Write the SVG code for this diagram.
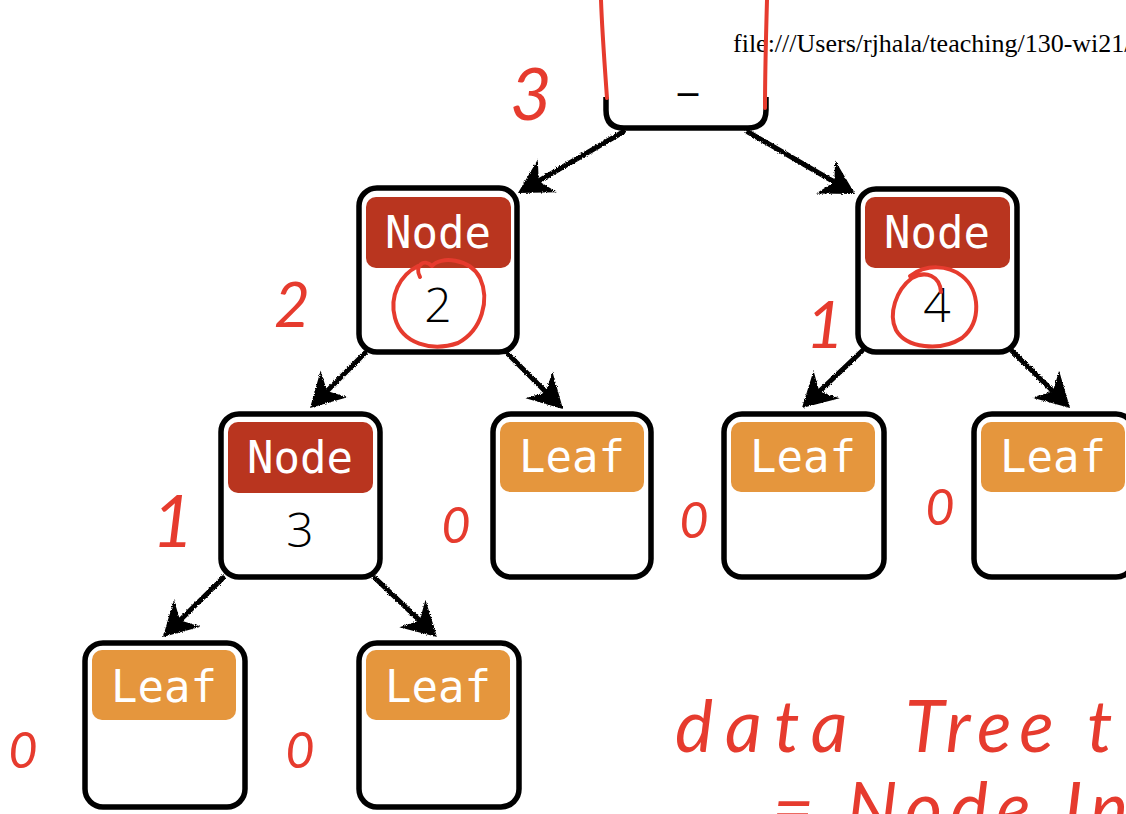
<svg xmlns="http://www.w3.org/2000/svg" width="1126" height="814" viewBox="0 0 1126 814">
  <style>
    .box { fill: #ffffff; stroke: #000000; stroke-width: 5.5; }
    .hdr-node { fill: #b9351f; }
    .hdr-leaf { fill: #e5963d; }
    .tag { font-family: "DejaVu Sans Mono", "Liberation Mono", monospace; font-size: 44px; fill: #ffffff; text-anchor: middle; }
    .val { font-family: "Open Sans", "Liberation Sans", sans-serif; font-weight: 300; font-size: 48px; fill: #000000; text-anchor: middle; }
    .edge { fill: none; stroke: #000000; stroke-width: 5; stroke-linecap: round; }
    .ink { fill: none; stroke: #e63b2e; stroke-width: 4; stroke-linecap: round; stroke-linejoin: round; }
    .hand { font-family: "Lato", "Noto Sans", "DejaVu Sans", sans-serif; font-weight: 400; font-style: italic; fill: #e63b2e; }
    .url { font-family: "Liberation Serif", "Times New Roman", serif; font-size: 26px; fill: #000000; }
  </style>
  <defs>
    <filter id="rough" x="-10%" y="-10%" width="120%" height="120%">
      <feTurbulence type="fractalNoise" baseFrequency="0.9" numOctaves="2" seed="3" result="n"/>
      <feDisplacementMap in="SourceGraphic" in2="n" scale="3" xChannelSelector="R" yChannelSelector="G"/>
    </filter>
    <marker id="head" markerUnits="userSpaceOnUse" viewBox="-26 -21 38 42" refX="0" refY="0" markerWidth="38" markerHeight="42" orient="auto">
      <path d="M10,0 L-24,-19 L-14,0 L-24,19 Z" fill="#000000"/>
    </marker>
  </defs>

  <rect width="1126" height="814" fill="#ffffff"/>

  <!-- connectors -->
  <g id="connectors" filter="url(#rough)">
    <line class="edge" x1="623" y1="132" x2="526.6" y2="188" marker-end="url(#head)"/>
    <line class="edge" x1="748" y1="132" x2="846.4" y2="189" marker-end="url(#head)"/>
    <line class="edge" x1="365" y1="353" x2="317.1" y2="400.9" marker-end="url(#head)"/>
    <line class="edge" x1="507" y1="353" x2="555.9" y2="401.9" marker-end="url(#head)"/>
    <line class="edge" x1="862" y1="351" x2="809.2" y2="401.1" marker-end="url(#head)"/>
    <line class="edge" x1="1012" y1="351" x2="1062.9" y2="401" marker-end="url(#head)"/>
    <line class="edge" x1="223" y1="578" x2="170.1" y2="630" marker-end="url(#head)"/>
    <line class="edge" x1="375" y1="578" x2="429.8" y2="630.1" marker-end="url(#head)"/>
  </g>

  <!-- root: only the lower part of its frame is visible -->
  <g id="root">
    <path d="M606,97 V110 Q606,128 624,128 H748 Q766,128 766,110 V97" fill="#ffffff" stroke="#000000" stroke-width="5.5"/>
    <text x="688" y="86" font-family="DejaVu Sans, sans-serif" font-size="40" text-anchor="middle" fill="#000">_</text>
  </g>

  <g id="node2">
    <rect class="box" x="359" y="188" width="158" height="164" rx="18"/>
    <rect class="hdr-node" x="366" y="197" width="145" height="71" rx="10"/>
    <text class="tag" x="438" y="248">Node</text>
    <text class="val" x="438" y="322">2</text>
  </g>

  <g id="node4">
    <rect class="box" x="858" y="189" width="159" height="163" rx="18"/>
    <rect class="hdr-node" x="865" y="197" width="145" height="71" rx="10"/>
    <text class="tag" x="937" y="248">Node</text>
    <text class="val" x="937" y="322">4</text>
  </g>

  <g id="node3">
    <rect class="box" x="221" y="414" width="159" height="163" rx="18"/>
    <rect class="hdr-node" x="228" y="422" width="145" height="71" rx="10"/>
    <text class="tag" x="300" y="473">Node</text>
    <text class="val" x="300" y="547">3</text>
  </g>

  <g id="leaf-a">
    <rect class="box" x="493" y="414" width="158" height="163" rx="18"/>
    <rect class="hdr-leaf" x="500" y="422" width="144" height="70" rx="10"/>
    <text class="tag" x="572" y="472">Leaf</text>
  </g>

  <g id="leaf-b">
    <rect class="box" x="724" y="414" width="160" height="163" rx="18"/>
    <rect class="hdr-leaf" x="731" y="422" width="144" height="70" rx="10"/>
    <text class="tag" x="803" y="472">Leaf</text>
  </g>

  <g id="leaf-c">
    <rect class="box" x="974" y="414" width="160" height="163" rx="18"/>
    <rect class="hdr-leaf" x="981" y="422" width="144" height="70" rx="10"/>
    <text class="tag" x="1053" y="472">Leaf</text>
  </g>

  <g id="leaf-d">
    <rect class="box" x="85" y="643" width="160" height="164" rx="18"/>
    <rect class="hdr-leaf" x="92" y="650" width="144" height="70" rx="10"/>
    <text class="tag" x="164" y="702">Leaf</text>
  </g>

  <g id="leaf-e">
    <rect class="box" x="359" y="643" width="160" height="164" rx="18"/>
    <rect class="hdr-leaf" x="366" y="650" width="144" height="70" rx="10"/>
    <text class="tag" x="438" y="702">Leaf</text>
  </g>

  <text class="url" x="733" y="52">file:///Users/rjhala/teaching/130-wi21/</text>

  <!-- red pen annotations -->
  <g id="ink">
    <path class="ink" d="M601,0 C602,30 605,70 607,98" stroke-width="5"/>
    <path class="ink" d="M767,0 C766,35 765,75 765,108" stroke-width="5"/>
    <path class="ink" d="M420,277 C414,266 424,258 432,266 C440,256 470,258 480,278 C490,300 482,330 458,343 C432,352 402,344 395,318 C389,296 400,275 418,266"/>
    <path class="ink" d="M941,292 C940,276 926,270 912,278 C896,290 888,314 896,330 C906,348 940,352 962,338 C982,322 980,290 962,276 C948,265 926,264 910,276"/>
    <text class="hand" x="531" y="120" font-size="72" text-anchor="middle">3</text>
    <text class="hand" x="292" y="327" font-size="62" text-anchor="middle">2</text>
    <text class="hand" x="825" y="348" font-size="66" text-anchor="middle">1</text>
    <text class="hand" x="173" y="547" font-size="72" text-anchor="middle">1</text>
    <text class="hand" x="456" y="543" font-size="50" text-anchor="middle">0</text>
    <text class="hand" x="694" y="538" font-size="50" text-anchor="middle">0</text>
    <text class="hand" x="940" y="525" font-size="50" text-anchor="middle">0</text>
    <text class="hand" x="23" y="768" font-size="50" text-anchor="middle">0</text>
    <text class="hand" x="300" y="768" font-size="50" text-anchor="middle">0</text>
    <text class="hand" x="675" y="752" font-size="72" letter-spacing="12">data</text>
    <text class="hand" x="905" y="752" font-size="72" letter-spacing="8">Tree</text>
    <text class="hand" x="1087" y="752" font-size="72">t</text>
    <text class="hand" x="772" y="834" font-size="72" letter-spacing="8">= Node Int</text>
  </g>
</svg>
